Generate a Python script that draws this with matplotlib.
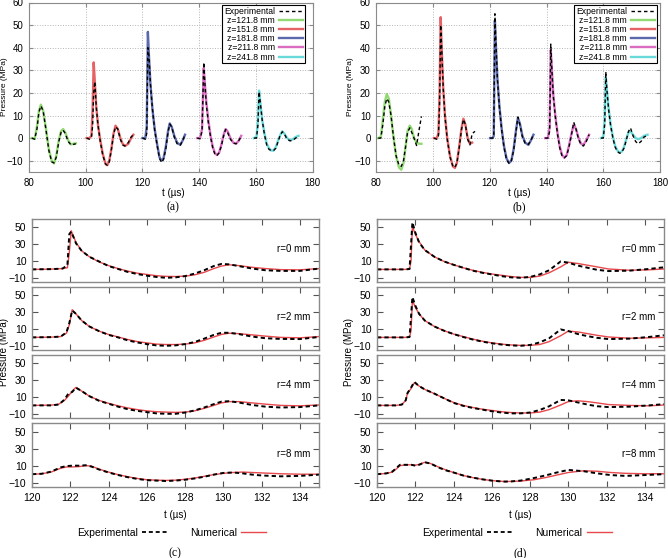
import numpy as np
import matplotlib
matplotlib.use('Agg')
import matplotlib.pyplot as plt
from matplotlib import font_manager

# ---------- top panels (a), (b): pulses at five distances ----------
z_labels = ['z=121.8 mm', 'z=151.8 mm', 'z=181.8 mm', 'z=211.8 mm', 'z=241.8 mm']
z_colors = ['#7ed35a', '#e2474b', '#3d4f9e', '#d452b8', '#4fd3d3']

# panel (a)
a_t = [
    [81.0, 82.0, 82.8, 83.5, 84.2, 85.0, 86.0, 87.0, 88.0, 88.8, 89.6, 90.5, 91.3, 92.0, 92.8, 93.8, 94.8, 95.6, 96.5],
    [100.3, 101.3, 102.0, 102.4, 102.8, 103.2, 103.7, 104.3, 105.0, 106.0, 107.0, 107.6, 108.3, 109.0, 109.8, 110.5, 111.3, 112.2, 113.0, 113.8, 115.0, 116.0, 116.8],
    [120.0, 121.0, 121.5, 121.9, 122.3, 122.8, 123.5, 124.3, 125.2, 126.0, 126.7, 127.4, 128.2, 129.0, 129.6, 130.3, 131.2, 132.2, 133.3, 134.2, 135.0],
    [139.3, 140.3, 141.0, 141.6, 142.0, 142.5, 143.2, 144.0, 144.8, 145.5, 146.2, 147.0, 147.8, 148.6, 149.3, 150.0, 151.0, 152.0, 153.0, 154.0, 154.8],
    [159.3, 160.2, 160.7, 161.1, 161.6, 162.2, 163.0, 163.8, 164.6, 165.4, 166.2, 167.0, 167.8, 168.6, 169.3, 170.0, 171.0, 172.0, 173.0, 174.0, 175.0],
]
a_num = [
    [0, -0.3, 5, 12, 14.8, 12, 4, -5, -10, -11.2, -8, -1, 3, 4, 2.5, -1, -2.8, -2.5, -2.3],
    [0, 0, 1, 12, 33.5, 25, 14, 6, 0, -7, -11.5, -12, -10, -5, 2, 5.5, 4, 0, -2.5, -3.5, -2.5, 0, 1.5],
    [0, 0, 5, 47, 36, 24, 13, 4, -3, -8.5, -10, -9, -4, 3, 6.5, 5, 1, -2, -3, -1, 1.5],
    [0, 0, 4, 31, 24, 16, 8, 1, -4, -6.5, -7.5, -6.5, -3, 1.5, 4, 3, 0, -2, -2.5, -1, 1],
    [0, 0.5, 8, 21, 15, 8, 2, -2.5, -4.5, -5.5, -5.5, -4, -1, 1.5, 3, 2, 0, -1, -0.5, 0.5, 1],
]
a_exp = [
    [0, -0.5, 4, 11.5, 14.2, 12, 3.5, -5.5, -10.5, -11, -8.5, -1.5, 2.5, 3.5, 2, -1.5, -3, -2.8, -2.5],
    [0, -0.5, 0.5, 5, 20, 25, 14, 6, -0.5, -7.5, -11.5, -12, -10.5, -5.5, 1.5, 5, 4, -0.5, -3, -3.5, -2, 0.5, 1.5],
    [0, -0.5, 2, 40, 36, 24, 13, 3.5, -3.5, -9, -10.8, -9.5, -5, 2.5, 6.2, 5, 0.5, -2.5, -3.2, -1, 1.5],
    [0, -0.3, 3, 33.5, 24, 15, 7, 0.5, -4.5, -7, -7.8, -6.5, -3.5, 1, 3.8, 2.5, -0.5, -2.2, -2.5, -1, 0.8],
    [0, 0, 6, 20.5, 15, 8, 1.5, -3, -5, -5.5, -5.5, -4.5, -1.5, 1.5, 2.8, 1.8, -0.5, -1.2, -1, 0, 0.8],
]

# panel (b)
nan = np.nan
b_t = [
    [80.7, 81.6, 82.3, 83.0, 83.7, 84.4, 85.2, 86.0, 87.0, 88.0, 88.8, 89.6, 90.3, 91.0, 91.8, 92.5, 93.3, 94.2, 95.0, 95.9],
    [100.3, 101.3, 101.9, 102.3, 102.7, 103.1, 103.6, 104.2, 105.0, 106.0, 107.0, 107.7, 108.4, 109.2, 110.0, 110.7, 111.4, 112.2, 113.0, 113.8, 114.8],
    [120.1, 121.0, 121.4, 121.8, 122.2, 122.7, 123.4, 124.2, 125.0, 125.9, 126.8, 127.6, 128.4, 129.2, 129.9, 130.6, 131.5, 132.5, 133.6, 134.5, 135.4],
    [139.5, 140.5, 141.1, 141.5, 141.9, 142.4, 143.1, 143.9, 144.7, 145.5, 146.3, 147.1, 147.9, 148.8, 149.6, 150.4, 151.3, 152.2, 153.0, 154.0, 155.0],
    [159.2, 160.0, 160.5, 160.9, 161.3, 161.9, 162.6, 163.4, 164.2, 165.0, 165.8, 166.5, 167.3, 168.1, 168.9, 169.6, 170.5, 171.4, 172.3, 173.3, 174.4, 175.6],
]
b_num = [
    [0, 0.5, 8, 16, 19.5, 17.5, 10, 1, -8, -13, -14, -11, -4, 3, 5.5, 4, 0, -2, -2.5, -2.5],
    [0, 0, 2, 20, 53.5, 38, 22, 10, 0, -8, -12.5, -13.2, -11, -4, 4, 8.6, 6, 0, -2.5, -2, nan],
    [0, 0, 1, 52, 40, 26, 14, 4, -3.5, -9, -11, -10, -5, 3, 9, 6.5, 1, -2, -3, -1, 1.5],
    [0, 0, 5, 39, 30, 19, 10, 2, -4, -7.5, -8.7, -7.5, -3.5, 2, 6, 4, 0, -2.5, -3, -1, 1.5],
    [0, 0.5, 8, 27, 21, 13, 6, 0.5, -3.5, -5.5, -6.5, -6, -4, -0.5, 2.5, 3, 1.5, 0, -0.5, 0, 1, 1.5],
]
b_exp = [
    [0, 0, 6, 14, 17.5, 16, 10, 1, -8, -12, -12.5, -10, -4, 2.5, 4.5, 2.5, 0, -3.3, 3, 9.6],
    [0, -0.5, 1, 15, 50, 38, 22, 9.5, -0.5, -8.5, -12.5, -13, -11, -4.5, 3.5, 8.3, 6, -0.5, -3, 2, 3],
    [0, 0, 0.5, 55, 41, 26, 13.5, 3.5, -4, -9.5, -11.2, -10, -5.5, 2.5, 9.3, 6, 0.5, -2.5, -2.8, -1, 1.5],
    [0, 0, 3, 41.6, 30, 18.5, 9.5, 1.5, -4.5, -8, -8.7, -7.8, -4, 1.5, 7, 4, -0.5, -3, -3.5, -1.5, 1.5],
    [0, 0, 6, 29.3, 21, 12.5, 5.5, 0, -4, -6, -6.7, -6.3, -4.5, -1, 3, 4.5, 1, -1.5, -2.5, -1.5, 0.5, 1.2],
]

# ---------- bottom panels (c), (d): radial positions ----------
r_labels = ['r=0 mm', 'r=2 mm', 'r=4 mm', 'r=8 mm']
tail_c = [122.6, 123.0, 123.5, 124.0, 124.5, 125.0, 125.5, 126.0, 126.5, 127.0, 127.5, 128.0, 128.5,
          129.0, 129.5, 129.9, 130.3, 130.8, 131.5, 132.2, 133.0, 134.0, 135.0]
c_t = [
    [120, 121, 121.6, 121.85, 121.95, 122.05, 122.3] + tail_c,
    [120, 121, 121.5, 121.8, 121.95, 122.1, 122.3] + tail_c,
    [120, 121, 121.4, 121.7, 121.9, 122.1, 122.3] + tail_c,
    [120, 120.5, 121, 121.5, 121.8, 122.1, 122.5, 122.8, 123.1, 123.5, 124.0, 124.5, 125.0, 125.5, 126.0,
     126.5, 127.0, 127.5, 128.0, 128.5, 129.0, 129.5, 130.0, 130.5, 131.0, 131.5, 132.0, 133.0, 134.0, 135.0],
]
c_num = [
    [0, 0.3, 1, 2, 20, 46, 32, 22, 15, 9, 4.5, 1, -2, -4.5, -6, -7.5, -8.3, -8.5, -8, -6.5, -3.5, 1, 4, 5.5, 4.5, 2.5, 1, -0.3, -0.5, 1],
    [0, 0.3, 1, 5, 15, 33, 28, 20, 13, 7.5, 3.5, 0.5, -2.5, -5, -6.5, -8, -8.5, -8.5, -8, -6.5, -3.5, 0.5, 3.5, 5, 4.5, 3, 1.5, 0, -0.5, 1],
    [0, 0.3, 1.5, 6, 11, 17, 21.5, 17, 11, 6, 2.5, -0.5, -3, -5, -6.5, -7.5, -8, -8.3, -8, -6.5, -3.5, 0, 3, 4.5, 4.5, 3, 1.5, 0, -0.5, 0.5],
    [0, 0.5, 2.5, 7, 8.5, 8.5, 9, 10, 9.5, 6, 2.5, -0.5, -3, -5, -6.5, -7, -7.3, -7, -6, -4.5, -2.5, -0.5, 1, 2, 2.5, 2, 1.5, 0.5, 0, 0],
]
c_exp = [
    [0, 0.3, 1, 5, 42, 45, 31, 22, 15, 9.5, 4, 0.5, -3, -5.5, -7.5, -9, -10, -9.5, -8, -5, -1, 4, 6.5, 6, 4, 1, -1, -1.8, -1.8, 1],
    [0, 0.3, 1, 6, 17, 32, 28, 20, 13, 7.5, 3, 0, -3.5, -6, -8, -9.5, -10, -9.5, -8, -5.5, -1.5, 3, 5.5, 5.5, 4, 1, -1, -1.8, -2, 0.5],
    [0, 0, 1, 7, 14, 16, 21, 17, 11, 5.5, 2, -1.5, -4.5, -6.5, -8, -9.5, -10, -10, -8.5, -6, -2.5, 1.5, 4.5, 5, 3.5, 0.5, -1.5, -2.5, -2, 0],
    [0, 0.5, 3, 8, 9.5, 10, 10, 10.5, 9, 5.5, 2, -1, -3.5, -5.5, -7, -7.5, -8, -7.5, -6.5, -5, -3, -0.5, 1.5, 2, 1, -0.5, -1.5, -2.5, -2, -0.5],
]

tail_d = [122.2, 122.5, 123.0, 123.5, 124.0, 124.5, 125.0, 125.5, 126.0, 126.5, 127.0, 127.5, 128.0,
          128.5, 129.0, 129.6, 130.0, 130.5, 131.0, 131.5, 132.1, 133.2, 134.2, 135.0]
d_t = [
    [120, 121, 121.5, 121.7, 121.78, 121.85, 122.0] + tail_d,
    [120, 121, 121.5, 121.7, 121.78, 121.85, 122.0] + tail_d,
    [120, 121, 121.3, 121.5, 121.6, 121.75, 121.95] + tail_d,
    [120, 120.5, 120.8, 121.0, 121.2, 121.5, 121.8, 122.0, 122.2, 122.5, 122.8, 123.2, 123.6, 124.0, 124.5, 125.0,
     125.5, 126.0, 126.6, 127.0, 127.5, 128.2, 128.8, 129.4, 130.0, 130.8, 131.5, 132.2, 133.0, 134.0, 135.0],
]
d_num = [
    [0, 0, 0, 0.5, 10, 51, 42, 33, 23, 15, 9.5, 5.5, 2, -1, -3.5, -5.5, -7, -8.5, -9.5, -9.5, -8, -4, 3, 8.5, 7, 5, 3, 0.5, -1, -0.5, 0.5],
    [0, 0, 0, 0.5, 8, 44, 36, 28, 20, 13, 8, 4, 1, -2, -4.5, -6.5, -8, -9, -9.5, -9.5, -8.5, -5, 2, 7.5, 6.5, 4.5, 2.5, 0.5, -1, -0.5, 0],
    [0, 0, 1, 6, 15, 19, 27, 23, 19, 14, 8.5, 3.5, 0, -2.5, -4.5, -6, -7.5, -8.5, -9, -9, -8, -5, 0.5, 4.5, 5.5, 4.5, 3, 1, 0, -0.5, 0.5],
    [0, 1, 2.5, 6, 10, 11, 11, 10.5, 11.5, 14, 12.5, 8.5, 5, 2, -1.5, -4, -6, -7.5, -8.5, -8.5, -8, -6.5, -4, -1, 2, 4, 3.5, 2, 1, 0.5, 0.5],
]
d_exp = [
    [0, 0, 0, 0.5, 30, 56, 44, 32, 23, 15, 9.5, 5.5, 2, -1.5, -4, -6, -8, -9.5, -10, -9, -6, -1, 9.5, 8, 4.5, 2, -0.5, -2, -1.5, 0.5, 2.5],
    [0, 0, 0, 0.5, 25, 48, 38, 28, 20, 13, 8, 4, 0.5, -2.5, -5, -7, -8.5, -9.5, -10, -9, -6, -1, 9.5, 7.5, 4, 1.5, -0.5, -2, -1.5, 0.5, 2.5],
    [0, 0, 1, 6, 15, 20, 28, 23, 19, 14, 8.5, 3, -0.5, -3, -5, -7, -8.5, -9.5, -9.5, -8.5, -5.5, -1, 6.5, 6, 3.5, 1, -1, -2, -1.5, 0, 1.5],
    [0, 1, 3, 7, 11, 11, 11, 10, 11, 14, 12.5, 8, 4.5, 2, -1.5, -4, -6, -7.5, -8.7, -8.5, -7.5, -4.5, -1.5, 2, 5, 3.5, 1, -1, -2, -1, 0],
]

# narrow sans if available, like the squeezed labels of the original
installed = {f.name for f in font_manager.fontManager.ttflist}
sans = 'Liberation Sans Narrow' if 'Liberation Sans Narrow' in installed else 'Liberation Sans'
plt.rcParams['font.family'] = [sans, 'DejaVu Sans']

W, H = 668, 558
fig = plt.figure(figsize=(W / 100, H / 100), dpi=100)
frame_col = '#8a8a8a'
num_red = '#e8484c'
dash_top = (0, (2.5, 2))
dash_bot = (0, (2.2, 1.6))


def px(x0, y0, x1, y1):
    # pixel box -> figure fraction rect
    return [x0 / W, 1 - y1 / H, (x1 - x0) / W, (y1 - y0) / H]


def top_panel(rect, ts, nums, exps, ylab_x, mid_x, leg_right, tag):
    ax = fig.add_axes(rect)
    hn = []
    for t, n, e, lab, c in zip(ts, nums, exps, z_labels, z_colors):
        ln, = ax.plot(t, n, color=c, lw=1.7, alpha=0.85, label=lab)
        hn.append(ln)
        he, = ax.plot(t, e, color='black', lw=1.0, ls=dash_top, label='Experimental')
    ax.set_xlim(80, 180)
    ax.set_ylim(-15, 60)
    ax.set_xticks(range(80, 181, 20))
    ax.set_yticks(range(-10, 61, 10))
    ax.grid(color='#b5b5b5', ls=':', lw=0.7)
    ax.tick_params(direction='in', top=True, right=True, labelsize=7, length=3,
                   color=frame_col, pad=4)
    for s in ax.spines.values():
        s.set_color(frame_col)
    fig.text(ylab_x / W, 1 - 87 / H, 'Pressure (MPa)', rotation=90, fontsize=6,
             ha='center', va='center')
    fig.text(mid_x / W, 1 - 193 / H, 't (µs)', fontsize=7, ha='center', va='center')
    fig.text(mid_x / W, 1 - 207 / H, tag, fontsize=8.5, family='Liberation Serif',
             ha='center', va='center')
    leg = ax.legend([he] + hn, ['Experimental'] + z_labels, loc='upper right',
                    bbox_to_anchor=(leg_right / W, 1 - 5 / H), bbox_transform=fig.transFigure,
                    fontsize=6.2, markerfirst=False, fancybox=False, edgecolor='black',
                    framealpha=1, borderpad=0.2, labelspacing=0.02, handlelength=2.8,
                    handletextpad=0.5, borderaxespad=0)
    leg.get_frame().set_linewidth(0.8)
    return ax


top_panel(px(29, 2.5, 312.7, 172), a_t, a_num, a_exp, 5, 173, 305, '(a)')
top_panel(px(376.3, 2.5, 660, 172), b_t, b_num, b_exp, 351, 519, 657, '(b)')

rows = [(219, 282), (287, 350), (355, 418), (423, 487)]


def bottom_panel(x0, x1, ts, nums, exps, ylab_x, mid_x, leg_x, tag):
    for i, (y0, y1) in enumerate(rows):
        ax = fig.add_axes(px(x0, y0, x1, y1))
        ax.plot(ts[i], nums[i], color=num_red, lw=1.0, label='Numerical')
        ax.plot(ts[i], exps[i], color='black', lw=1.4, ls=dash_bot, label='Experimental')
        ax.set_xlim(120, 135)
        ax.set_ylim(-15, 60)
        ax.set_xticks(range(120, 135, 2))
        ax.set_yticks([-10, 10, 30, 50])
        ax.tick_params(direction='in', top=True, right=True, labelsize=7.5, length=4,
                       color='#555555', labelbottom=(i == 3), pad=4)
        for s in ax.spines.values():
            s.set_color(frame_col)
            s.set_linewidth(1.0)
        ax.text(133.7, 24, r_labels[i], fontsize=7, ha='center', va='center')
    fig.text(ylab_x / W, 1 - 352.5 / H, 'Pressure (MPa)', rotation=90, fontsize=7,
             ha='center', va='center')
    fig.text(mid_x / W, 1 - 515 / H, 't (µs)', fontsize=7, ha='center', va='center')
    fig.text(mid_x / W, 1 - 553 / H, tag, fontsize=8.5, family='Liberation Serif',
             ha='center', va='center')
    he = plt.Line2D([], [], color='black', lw=1.3, ls=dash_bot)
    hn = plt.Line2D([], [], color=num_red, lw=1.0)
    fig.legend([he, hn], ['Experimental', 'Numerical'], loc='center',
               bbox_to_anchor=(leg_x / W, 1 - 533 / H), ncol=2, frameon=False,
               markerfirst=False, fontsize=7.5, handlelength=2.4, columnspacing=2.2,
               handletextpad=0.4)


bottom_panel(32, 319, c_t, c_num, c_exp, 4.5, 175, 171.5, '(c)')
bottom_panel(377, 664, d_t, d_num, d_exp, 348.5, 520, 517, '(d)')

fig.savefig('out.png', dpi=100)
